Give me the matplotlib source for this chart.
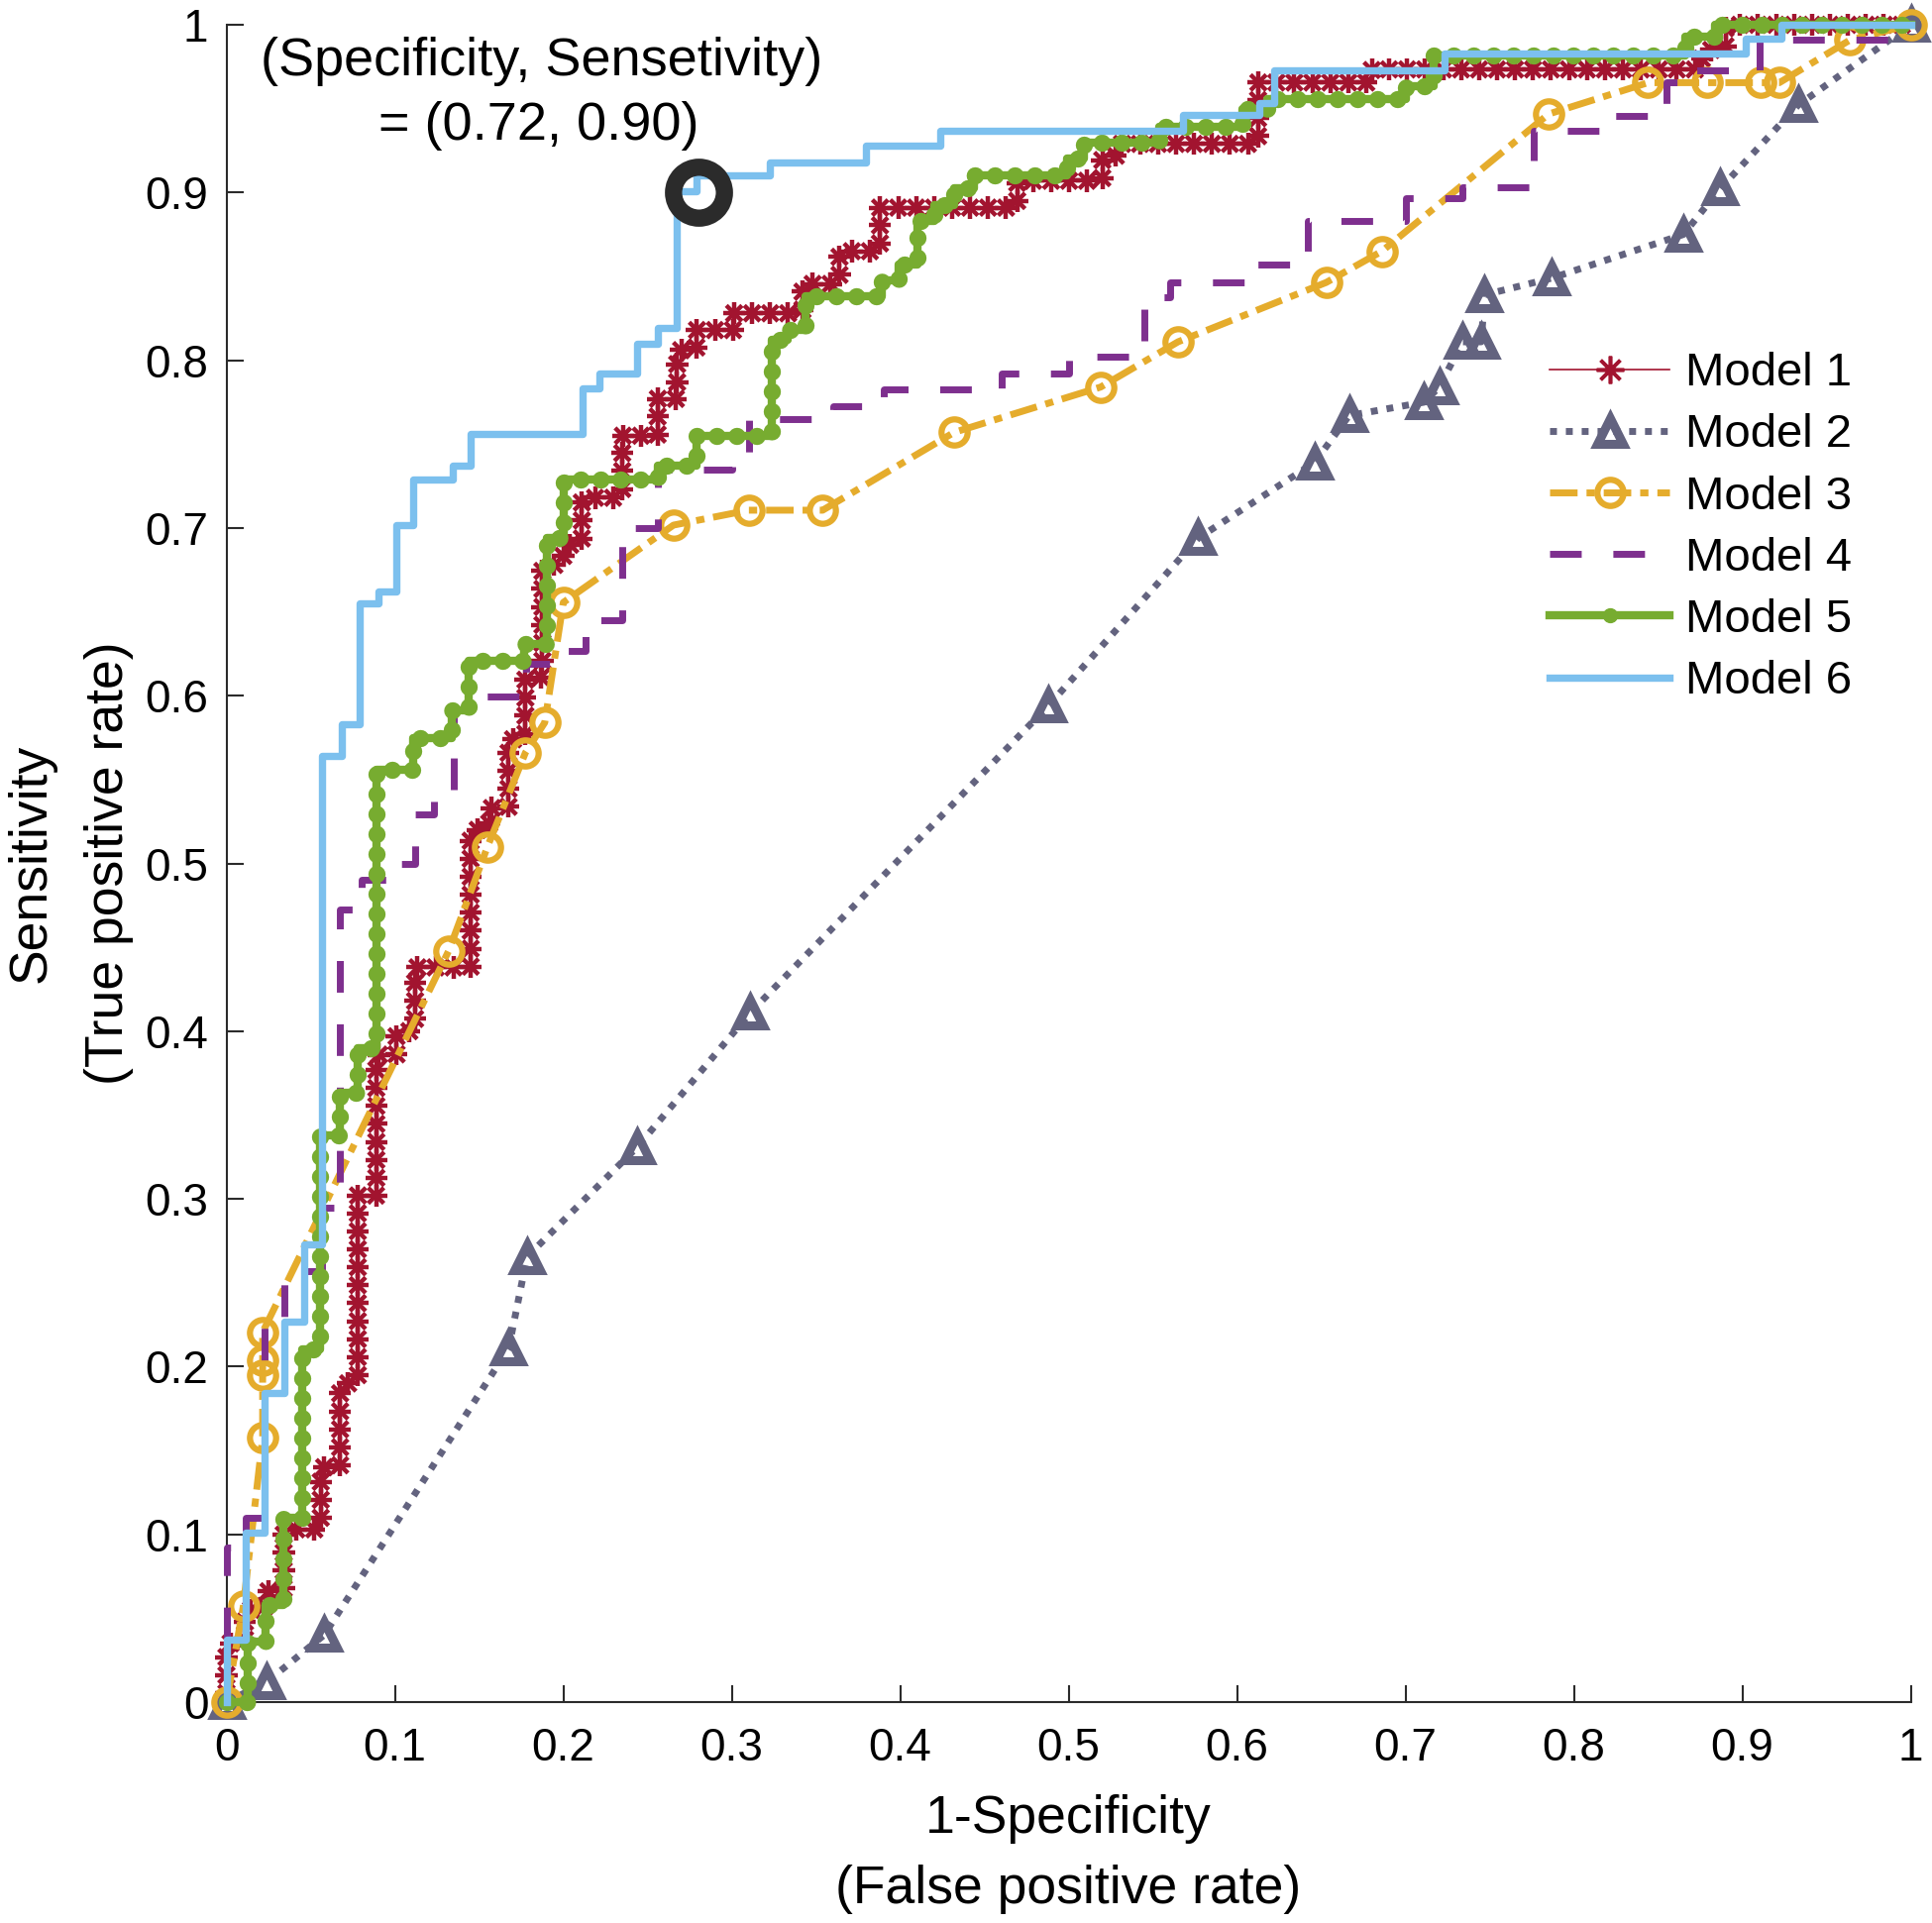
import matplotlib.pyplot as plt
from matplotlib import patheffects as pe
from matplotlib.lines import Line2D

plt.rcParams['font.family'] = ['Liberation Sans', 'DejaVu Sans']

# ROC curves, as (1-specificity, sensitivity) vertices
model1 = [(0, 0), (0, 0.035), (0.011, 0.035), (0.011, 0.055), (0.023, 0.055), (0.023, 0.066),
          (0.034, 0.066), (0.034, 0.103), (0.056, 0.103), (0.056, 0.14), (0.0675, 0.14), (0.0675, 0.19),
          (0.078, 0.19), (0.078, 0.302), (0.089, 0.302), (0.089, 0.386), (0.101, 0.386), (0.101, 0.40),
          (0.112, 0.40), (0.112, 0.438), (0.145, 0.438), (0.145, 0.52), (0.156, 0.52), (0.156, 0.533),
          (0.1675, 0.533), (0.1675, 0.574), (0.1775, 0.574), (0.1775, 0.611), (0.1876, 0.611),
          (0.1876, 0.678), (0.200, 0.678), (0.200, 0.69), (0.211, 0.69), (0.211, 0.718), (0.235, 0.718),
          (0.235, 0.755), (0.256, 0.755), (0.256, 0.777), (0.2676, 0.777), (0.2676, 0.806), (0.279, 0.806),
          (0.279, 0.818), (0.301, 0.818), (0.301, 0.828), (0.342, 0.828), (0.342, 0.8455), (0.364, 0.8455),
          (0.364, 0.865), (0.388, 0.865), (0.388, 0.891), (0.4695, 0.891), (0.4695, 0.907), (0.52, 0.907),
          (0.52, 0.922), (0.53, 0.922), (0.53, 0.929), (0.6125, 0.929), (0.6125, 0.9656), (0.68, 0.9656),
          (0.68, 0.9734), (0.876, 0.9734), (0.876, 0.985), (0.89, 0.985), (0.89, 1.0), (1.0, 1.0)]

model2 = [(0, 0), (0.024, 0.012), (0.058, 0.04), (0.1676, 0.211), (0.1785, 0.2655), (0.244, 0.331),
          (0.311, 0.411), (0.488, 0.594), (0.577, 0.694), (0.646, 0.739), (0.6665, 0.767), (0.711, 0.775),
          (0.72, 0.784), (0.734, 0.811), (0.745, 0.811), (0.747, 0.839), (0.787, 0.849), (0.865, 0.875),
          (0.887, 0.9025), (0.933, 0.952), (1.0, 1.0)]

model3 = [(0, 0), (0.01, 0.057), (0.0215, 0.1575), (0.0215, 0.195), (0.0215, 0.204), (0.0215, 0.2205),
          (0.132, 0.448), (0.155, 0.510), (0.1775, 0.566), (0.189, 0.584), (0.200, 0.6556), (0.2654, 0.7017),
          (0.31, 0.7106), (0.354, 0.7106), (0.432, 0.757), (0.519, 0.784), (0.565, 0.811), (0.653, 0.8464),
          (0.686, 0.865), (0.785, 0.9468), (0.844, 0.9655), (0.879, 0.9655), (0.911, 0.9655),
          (0.922, 0.9655), (0.964, 0.991), (1.0, 1.0)]

model4 = [(0, 0), (0, 0.092), (0.0116, 0.092), (0.0116, 0.11), (0.0225, 0.11), (0.0225, 0.23),
          (0.0342, 0.23), (0.0342, 0.257), (0.057, 0.257), (0.057, 0.295), (0.0675, 0.295),
          (0.0675, 0.4728), (0.08, 0.4728), (0.08, 0.49), (0.101, 0.49), (0.101, 0.50), (0.112, 0.50),
          (0.112, 0.529), (0.123, 0.529), (0.123, 0.543), (0.135, 0.543), (0.135, 0.592), (0.145, 0.592),
          (0.145, 0.5995), (0.178, 0.5995), (0.178, 0.619), (0.200, 0.619), (0.200, 0.627), (0.213, 0.627),
          (0.213, 0.645), (0.235, 0.645), (0.235, 0.70), (0.256, 0.70), (0.256, 0.735), (0.30, 0.735),
          (0.30, 0.745), (0.31, 0.745), (0.31, 0.765), (0.36, 0.765), (0.36, 0.7725), (0.39, 0.7725),
          (0.39, 0.7826), (0.46, 0.7826), (0.46, 0.792), (0.50, 0.792), (0.50, 0.802), (0.545, 0.802),
          (0.545, 0.8376), (0.56, 0.8376), (0.56, 0.8464), (0.61, 0.8464), (0.61, 0.857), (0.642, 0.857),
          (0.642, 0.883), (0.70, 0.883), (0.70, 0.8966), (0.734, 0.8966), (0.734, 0.903), (0.776, 0.903),
          (0.776, 0.937), (0.815, 0.937), (0.815, 0.9457), (0.855, 0.9457), (0.855, 0.9656), (0.87, 0.9656),
          (0.87, 0.973), (0.91, 0.973), (0.91, 0.991), (0.99, 0.991), (0.99, 1.0), (1.0, 1.0)]

model5 = [(0, 0), (0.0126, 0), (0.0126, 0.036), (0.0234, 0.036), (0.0234, 0.058), (0.034, 0.058),
          (0.034, 0.11), (0.045, 0.11), (0.045, 0.21), (0.0558, 0.21), (0.0558, 0.338), (0.0675, 0.338),
          (0.0675, 0.363), (0.078, 0.363), (0.078, 0.39), (0.089, 0.39), (0.089, 0.556), (0.111, 0.556),
          (0.111, 0.575), (0.134, 0.575), (0.134, 0.591), (0.144, 0.591), (0.144, 0.621), (0.177, 0.621),
          (0.177, 0.631), (0.19, 0.631), (0.19, 0.694), (0.200, 0.694), (0.200, 0.729), (0.256, 0.729),
          (0.256, 0.737), (0.279, 0.737), (0.279, 0.755), (0.324, 0.755), (0.324, 0.812), (0.333, 0.812),
          (0.333, 0.818), (0.344, 0.818), (0.344, 0.838), (0.389, 0.838), (0.389, 0.8476), (0.399, 0.8476),
          (0.399, 0.857), (0.41, 0.857), (0.41, 0.883), (0.42, 0.883), (0.42, 0.8925), (0.432, 0.8925),
          (0.432, 0.9025), (0.444, 0.9025), (0.444, 0.910), (0.499, 0.910), (0.499, 0.920), (0.509, 0.920),
          (0.509, 0.930), (0.554, 0.930), (0.554, 0.939), (0.6035, 0.939), (0.6035, 0.95), (0.618, 0.95),
          (0.618, 0.9557), (0.70, 0.9557), (0.70, 0.9634), (0.717, 0.9634), (0.717, 0.982), (0.866, 0.982),
          (0.866, 0.993), (0.884, 0.993), (0.884, 1.0), (1.0, 1.0)]

model6 = [(0, 0), (0, 0.037), (0.0117, 0.037), (0.0117, 0.101), (0.0225, 0.101), (0.0225, 0.184),
          (0.0342, 0.184), (0.0342, 0.227), (0.046, 0.227), (0.046, 0.273), (0.0568, 0.273), (0.0568, 0.564),
          (0.0686, 0.564), (0.0686, 0.583), (0.079, 0.583), (0.079, 0.655), (0.09, 0.655), (0.09, 0.662),
          (0.1009, 0.662), (0.1009, 0.702), (0.111, 0.702), (0.111, 0.729), (0.1346, 0.729), (0.1346, 0.737),
          (0.1448, 0.737), (0.1448, 0.756), (0.2112, 0.756), (0.2112, 0.783), (0.2213, 0.783), (0.2213, 0.792),
          (0.2438, 0.792), (0.2438, 0.81), (0.2562, 0.81), (0.2562, 0.819), (0.2675, 0.819), (0.2675, 0.901),
          (0.279, 0.901), (0.279, 0.910), (0.3225, 0.910), (0.3225, 0.918), (0.3795, 0.918), (0.3795, 0.928),
          (0.424, 0.928), (0.424, 0.937), (0.568, 0.937), (0.568, 0.946), (0.613, 0.946), (0.613, 0.9535),
          (0.622, 0.9535), (0.622, 0.973), (0.723, 0.973), (0.723, 0.983), (0.902, 0.983), (0.902, 0.992),
          (0.923, 0.992), (0.923, 1.0), (1.0, 1.0)]

labels = ['Model 1', 'Model 2', 'Model 3', 'Model 4', 'Model 5', 'Model 6']
ticks = [0, 0.1, 0.2, 0.3, 0.4, 0.5, 0.6, 0.7, 0.8, 0.9, 1]
tick_labels = ['0', '0.1', '0.2', '0.3', '0.4', '0.5', '0.6', '0.7', '0.8', '0.9', '1']

# chosen operating point of model 6
cut_spec, cut_sens = 0.72, 0.90

RED = '#A2142F'
GRAY = '#63637F'
YELLOW = '#E5AC2C'
PURPLE = '#7E2F8E'
GREEN = '#77AC30'
BLUE = '#7CC0EE'
AXIS = '#2b2b2b'

fig = plt.figure(figsize=(19.5, 19.41), dpi=100)
ax = fig.add_axes([0.1172, 0.1149, 0.8718, 0.8722])

# Model 1: thin line covered by asterisks along the curve
star = [pe.TickedStroke(spacing=13, angle=a, length=0.62, linewidth=3.2,
                        foreground=RED, capstyle='butt') for a in range(0, 360, 45)]
x, y = zip(*model1)
ax.plot(x, y, color=RED, lw=1.2, clip_on=False, zorder=3,
        path_effects=[pe.Normal()] + star)

# Model 2: dotted with open triangles
x, y = zip(*model2)
ax.plot(x, y, color=GRAY, lw=5, ls=(0, (1, 1.3)), marker='^', ms=19, mew=6.5,
        mfc='none', clip_on=False, zorder=4)

# Model 3: dash-dot with open circles
x, y = zip(*model3)
ax.plot(x, y, color=YELLOW, lw=5, ls=(0, (4, 1.3, 1.2, 1.3)), marker='o', ms=19, mew=4.5,
        mfc='none', clip_on=False, zorder=5)

# Model 4: dashed
x, y = zip(*model4)
ax.plot(x, y, color=PURPLE, lw=5, ls=(0, (4.6, 4.6)), clip_on=False, zorder=6)

# Model 5: thick line with a dot at each step
x, y = zip(*model5)
ax.plot(x, y, color=GREEN, lw=6, clip_on=False, zorder=7)
ax.plot(x, y, color=GREEN, lw=12.5, ls=(0, (0.01, 1.15)), dash_capstyle='round',
        clip_on=False, zorder=7)

# Model 6: plain step line
x, y = zip(*model6)
ax.plot(x, y, color=BLUE, lw=5.3, clip_on=False, zorder=8)

# marked operating point
ax.plot([1 - cut_spec], [cut_sens], marker='o', ms=37, mew=12.5, mfc='none', mec=AXIS,
        clip_on=False, zorder=10)
ax.text(0.1874, 0.978, '(Specificity, Sensetivity)', ha='center', va='center', fontsize=39)
ax.text(0.1856, 0.940, '= (%.2f, %.2f)' % (cut_spec, cut_sens), ha='center', va='center', fontsize=39)

ax.set_xlim(0, 1)
ax.set_ylim(0, 1)
ax.set_xticks(ticks)
ax.set_xticklabels(tick_labels)
ax.set_yticks(ticks)
ax.set_yticklabels(tick_labels)
ax.tick_params(direction='in', length=12, width=1.5, color=AXIS, labelsize=33)
ax.tick_params(axis='x', pad=18)
ax.tick_params(axis='y', pad=13)
for side in ['top', 'right']:
    ax.spines[side].set_visible(False)
for side in ['left', 'bottom']:
    ax.spines[side].set_color(AXIS)
    ax.spines[side].set_linewidth(1.5)

ax.set_xlabel('1-Specificity\n(False positive rate)', fontsize=38.5, labelpad=17, linespacing=1.55)
ax.set_ylabel('Sensitivity\n(True positive rate)', fontsize=38.5, labelpad=8, linespacing=1.75)

# legend built from proxy lines so the curve effects are not repeated
handles = [
    Line2D([], [], color=RED, lw=1.2, marker=(8, 2, 0), ms=20, mew=2.6),
    Line2D([], [], color=GRAY, lw=5, ls=(0, (1, 1.3)), marker='^', ms=19, mew=6.5, mfc='none'),
    Line2D([], [], color=YELLOW, lw=5, ls=(0, (4, 1.3, 1.2, 1.3)), marker='o', ms=19, mew=4.5, mfc='none'),
    Line2D([], [], color=PURPLE, lw=5, ls=(0, (4.6, 4.6))),
    Line2D([], [], color=GREEN, lw=6, marker='o', ms=10),
    Line2D([], [], color=BLUE, lw=5.3),
]
ax.legend(handles, labels, loc='upper left', bbox_to_anchor=(0.7856, 0.805), frameon=False,
          fontsize=34, handlelength=2.57, handletextpad=0.34, labelspacing=0.385,
          borderaxespad=0, borderpad=0)

plt.savefig('out.png', dpi=100)
